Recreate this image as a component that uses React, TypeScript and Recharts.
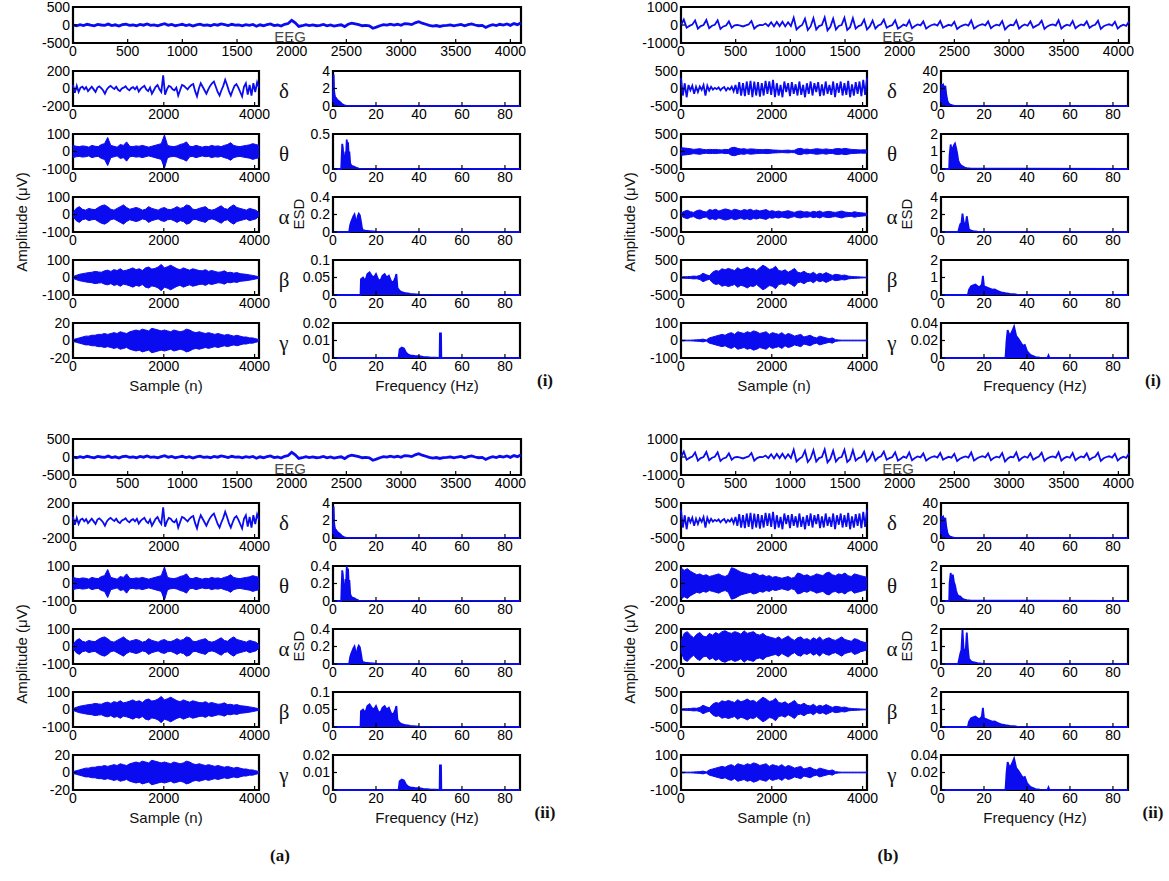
import React from 'react';
import { ComposedChart, Line, Area, XAxis, YAxis, ReferenceArea } from 'recharts';

const BLUE = '#0b0bf0';
const FONT = '"Liberation Sans", Arial, Helvetica, sans-serif';
const SERIF = '"Liberation Serif", "Times New Roman", serif';

const SAMPLE_MAX = 4097;
const FREQ_MAX = 87;

// ---- tick labels ----
const eegXTicks = [0, 500, 1000, 1500, 2000, 2500, 3000, 3500, 4000];
const bandXTicks = [0, 2000, 4000];
const freqXTicks = [0, 20, 40, 60, 80];
const bandNames = ['δ', 'θ', 'α', 'β', 'γ'];

// ---- EEG (a) ----
const aEeg = [
  0, -20, 10, -15, 20, -5, -25, 15, 0, -10,
  25, -15, 5, -30, 10, 20, -10, 0, -20, 15,
  -5, 30, -10, 5, -25, 10, 35, -5, 15, -20,
  0, 20, -15, 10, -30, 5, 25, -10, 0, -20,
  15, -5, 30, 10, -15, 20, -5, 0, -25, 10,
  -10, 15, -35, 5, -20, 10, 30, -15, 0, -30,
  20, 40, 130, 60, -40, -20, 10, -15, 5, -20,
  -10, 15, -25, 0, -30, -10, 5, -45, 20, 50,
  30, 10, -20, -10, -25, -90, -60, -20, 10, -5,
  25, 0, 20, -10, 40, 30, 10, 60, 90, 50,
  20, -10, -30, -15, -40, -20, -10, 5, -25, 0,
  15, -20, 10, 30, 0, -20, -10, -70, -20, 10,
  -15, 20, 0, 30, -10, 40, 10, 60,
];
const aDelta = [
  40, -50, 30, -40, 10, 20, -10, 15, -30, -5,
  20, -10, -40, 10, 25, 5, -20, -60, -10, 15,
  30, 10, -5, 20, -15, -30, 0, 10, 25, -5,
  -20, 5, 15, -10, 20, -35, -5, 15, 30, -10,
  -30, 10, -60, -20, 20, 40, -10, -40, 150, -70,
  -10, 30, 20, -10, -20, 10, -80, -20, 40, 30,
  10, -10, 20, 40, 50, -30, -90, 0, 60, 20,
  -20, -60, -10, 30, 60, 80, 20, -40, -80, -20,
  30, 100, 40, -30, -80, -20, 30, 50, 10, -40,
  -90, 20, 60, -70, 40, -80, 60, -40, 70, 10,
];
const aThetaEnv = [
  35, 30, 28, 32, 30, 25, 35, 30, 28, 40,
  45, 80, 35, 30, 25, 40, 35, 55, 30, 28,
  32, 30, 35, 30, 25, 30, 35, 40, 45, 95,
  35, 30, 28, 32, 40, 45, 55, 30, 28, 35,
  30, 25, 30, 28, 35, 30, 32, 28, 35, 40,
  50, 35, 30, 28, 32, 35, 38, 45, 40, 35,
];
const aAlphaEnv = [
  10, 35, 45, 30, 25, 35, 30, 28, 40, 50,
  55, 45, 30, 25, 35, 45, 55, 40, 30, 35,
  40, 35, 25, 30, 45, 35, 30, 25, 35, 40,
  30, 28, 35, 45, 35, 40, 55, 50, 30, 28,
  35, 40, 45, 30, 25, 30, 40, 50, 35, 30,
  45, 55, 40, 35, 30, 25, 35, 30, 25, 10,
];
const aBetaEnv = [
  5, 12, 18, 22, 25, 28, 30, 35, 32, 30,
  38, 42, 35, 45, 40, 50, 38, 42, 48, 55,
  45, 50, 40, 55, 60, 48, 52, 60, 75, 55,
  62, 70, 60, 50, 45, 55, 48, 42, 50, 45,
  40, 38, 45, 35, 40, 35, 30, 32, 38, 28,
  30, 25, 28, 22, 20, 18, 15, 12, 8, 4,
];
const aGammaEnv = [
  1, 2, 3, 4, 5, 5, 6, 6, 7, 7,
  8, 7, 8, 9, 8, 10, 9, 8, 10, 11,
  12, 11, 13, 12, 11, 14, 13, 12, 11, 12,
  11, 10, 12, 11, 10, 11, 13, 12, 10, 9,
  10, 9, 8, 9, 8, 7, 8, 7, 6, 7,
  6, 5, 6, 5, 4, 4, 3, 3, 2, 1,
];

// ---- ESD (a) ----
const aDeltaF = [0, 0.3, 0.5, 0.8, 1, 1.5, 2, 2.5, 3, 3.5, 4, 5, 6, 87];
const aDeltaV = [0.5, 3.6, 1.8, 1.2, 1.0, 0.9, 0.7, 0.6, 0.5, 0.4, 0.25, 0.1, 0.03, 0];
const aThetaF = [0, 3.8, 4, 4.3, 4.6, 4.9, 5.2, 5.5, 5.8, 6.1, 6.4, 6.7, 7, 7.3, 7.6, 8, 8.5, 9, 10, 11, 12, 87];
const aThetaV = [0, 0, 0.15, 0.36, 0.3, 0.12, 0.2, 0.15, 0.25, 0.2, 0.42, 0.3, 0.38, 0.2, 0.25, 0.08, 0.05, 0.04, 0.03, 0.015, 0.005, 0];
const a2ThetaV = [0, 0, 0.15, 0.35, 0.3, 0.12, 0.2, 0.15, 0.25, 0.2, 0.4, 0.3, 0.37, 0.2, 0.24, 0.08, 0.05, 0.04, 0.03, 0.015, 0.005, 0];
const aAlphaF = [0, 7.5, 8, 8.5, 9, 9.5, 10, 10.5, 11, 11.5, 12, 12.5, 13, 13.5, 14, 15, 17, 20, 87];
const aAlphaV = [0, 0, 0.08, 0.12, 0.15, 0.18, 0.2, 0.14, 0.1, 0.18, 0.21, 0.19, 0.12, 0.04, 0.02, 0.015, 0.01, 0.003, 0];
const aBetaF = [0, 12.8, 13, 14, 15, 16, 17, 18, 19, 20, 21, 22, 23, 24, 25, 26, 27, 28, 29, 29.5, 30, 31, 32, 34, 36, 40, 87];
const aBetaV = [0, 0, 0.045, 0.05, 0.04, 0.06, 0.065, 0.055, 0.05, 0.06, 0.045, 0.04, 0.055, 0.06, 0.05, 0.055, 0.04, 0.035, 0.05, 0.06, 0.02, 0.012, 0.008, 0.005, 0.003, 0.001, 0];
const aGammaF = [0, 30.5, 31, 32, 33, 34, 35, 36, 38, 40, 42, 45, 49.6, 49.75, 50.25, 50.4, 52, 87];
const aGammaV = [0, 0, 0.005, 0.006, 0.0055, 0.003, 0.002, 0.0015, 0.0012, 0.001, 0.0006, 0.0003, 0, 0.014, 0.014, 0, 0, 0];

// ---- EEG (b) ----
const bEeg = [
  0, 300, -150, -50, 20, 250, -200, -60, 0, 280,
  -180, -40, 10, 260, -220, -80, -30, 200, -150, -20,
  0, -40, -80, -20, 30, 220, -200, -60, 10, -10,
  80, -60, 150, -80, 170, -60, 180, -80, 150, -60,
  400, -250, -100, 0, 350, -280, -80, 380, -250, -60,
  0, 420, -300, -100, 350, -250, -50, 0, 400, -280,
  -120, 380, -200, -60, 0, 300, -250, -80, 250, -200,
  -30, 40, 300, -150, -60, 0, 260, -200, -100, 20,
  -50, 250, -180, -60, 30, -20, 200, -200, -80, 0,
  40, -30, 220, -150, -60, 10, -40, 180, -220, -100,
  -20, 30, -30, 250, -200, -80, 0, 40, -20, 200,
  -180, -50, 20, -30, 220, -250, -80, 10, -20, 250,
  -200, -60, 30, -40, 200, -150, -50, 20, 240, -220,
  -80, 0, 30, -30, 260, -200, -60, 20, -40, 220,
  -180, -60, 30, -20, 200, -160, -40, 10, 240, -220,
  -70, 0, 40, -30, 180, -200, -60, 20, -50, 200,
];
const bDelta = [
  300, -200, 150, -250, 100, -50, 80, -150, 50, -100,
  60, -40, 100, -200, 80, -60, 50, -30, 20, -20,
  30, -50, 10, 40, -60, 20, -30, 50, -80, 100,
  -150, 180, -200, 150, -220, 200, -180, 220, -250, 200,
  -200, 180, -230, 150, -200, 220, -150, 200, -180, 250,
  -250, 150, -200, 100, -250, 200, -100, 150, -220, 180,
  -150, 120, -200, 200, -180, 100, -250, 150, -150, 200,
  -200, 150, -100, 180, -220, 120, -200, 200, -150, 100,
  -180, 200, -250, 150, -120, 200, -200, 150, -180, 220,
  -250, 120, -200, 180, -150, 200, -220, 250, -180, 300,
];
const bThetaEnv = [
  110, 100, 90, 80, 60, 70, 80, 60, 50, 60,
  55, 60, 50, 45, 60, 55, 110, 120, 90, 70,
  80, 60, 75, 70, 60, 55, 50, 60, 55, 45,
  40, 35, 30, 35, 40, 30, 35, 80, 90, 60,
  70, 50, 65, 80, 70, 60, 75, 60, 55, 80,
  85, 70, 90, 75, 60, 55, 50, 45, 50, 40,
];
const bAlphaEnv = [
  40, 90, 120, 80, 60, 110, 130, 90, 70, 140,
  120, 150, 100, 130, 160, 140, 110, 150, 130, 100,
  140, 120, 150, 110, 130, 100, 120, 140, 90, 110,
  80, 100, 70, 90, 110, 80, 60, 90, 100, 70,
  80, 60, 90, 70, 100, 60, 80, 90, 70, 60,
  80, 100, 70, 60, 50, 80, 60, 50, 40, 30,
];
const bBetaEnv = [
  15, 20, 25, 30, 40, 35, 60, 120, 80, 50,
  150, 200, 180, 250, 220, 260, 230, 200, 280, 220,
  250, 300, 240, 260, 200, 280, 350, 300, 230, 250,
  320, 200, 180, 220, 150, 200, 260, 150, 130, 180,
  120, 100, 150, 80, 120, 90, 140, 100, 60, 90,
  80, 60, 70, 40, 30, 25, 20, 15, 10, 8,
];
const bGammaEnv = [
  2, 2, 2, 2, 3, 4, 5, 8, 3, 15,
  20, 25, 30, 35, 30, 40, 45, 35, 50, 45,
  40, 50, 45, 55, 50, 40, 45, 50, 35, 45,
  40, 35, 45, 30, 40, 35, 25, 30, 35, 20,
  25, 30, 20, 15, 25, 20, 15, 10, 15, 5,
  3, 2, 2, 2, 2, 2, 2, 2, 2, 2,
];
const b2ThetaEnv = [
  180, 150, 170, 140, 120, 100, 110, 90, 100, 80,
  90, 100, 110, 90, 80, 100, 180, 170, 150, 130,
  120, 110, 100, 120, 110, 90, 100, 80, 90, 70,
  80, 70, 60, 70, 80, 60, 70, 120, 110, 90,
  100, 80, 90, 110, 100, 90, 120, 130, 100, 90,
  110, 100, 120, 90, 80, 110, 100, 90, 80, 70,
];
const b2AlphaEnv = [
  60, 150, 170, 130, 100, 140, 160, 120, 110, 150,
  130, 160, 140, 170, 180, 160, 150, 170, 160, 140,
  180, 150, 160, 170, 140, 130, 150, 120, 110, 100,
  90, 110, 80, 100, 120, 90, 70, 100, 110, 80,
  90, 70, 100, 80, 110, 70, 90, 100, 80, 70,
  90, 110, 80, 70, 60, 90, 80, 60, 50, 40,
];

// ---- ESD (b) ----
const bDeltaF = [0, 0.3, 0.6, 1, 1.5, 2, 2.5, 3, 3.5, 4, 5, 6, 87];
const bDeltaV = [5, 25, 22, 24, 20, 23, 12, 6, 3, 2, 1, 0.3, 0];
const bThetaF = [0, 3.8, 4, 4.5, 5, 5.5, 6, 6.5, 7, 7.5, 8, 8.5, 9, 10, 11, 12, 14, 87];
const bThetaV = [0, 0, 0.8, 1.4, 1.0, 1.2, 1.35, 1.45, 1.2, 0.9, 0.5, 0.35, 0.25, 0.15, 0.08, 0.05, 0.02, 0];
const b2ThetaF = [0, 3.8, 4, 4.5, 5, 5.5, 6, 6.5, 7, 7.5, 8, 9, 10, 11, 12, 14, 87];
const b2ThetaV = [0, 0, 1.0, 1.6, 1.2, 1.5, 1.1, 0.9, 0.6, 0.4, 0.3, 0.25, 0.12, 0.08, 0.05, 0.02, 0];
const bAlphaF = [0, 8, 8.5, 9, 9.5, 10, 10.5, 11, 11.5, 12, 12.5, 13, 14, 15, 17, 20, 87];
const bAlphaV = [0, 0, 0.5, 0.9, 1.0, 2.1, 1.2, 0.8, 0.9, 1.8, 1.0, 0.3, 0.15, 0.1, 0.05, 0.01, 0];
const b2AlphaV = [0, 0, 0.3, 0.6, 0.8, 1.95, 0.9, 0.7, 0.8, 1.8, 0.9, 0.3, 0.15, 0.1, 0.05, 0.01, 0];
const bBetaF = [0, 12.5, 13, 14, 15, 16, 17, 18, 19, 19.5, 20, 21, 22, 23, 24, 25, 26, 27, 28, 30, 32, 35, 40, 87];
const bBetaV = [0, 0, 0.3, 0.5, 0.55, 0.6, 0.5, 0.45, 0.6, 1.1, 0.5, 0.45, 0.4, 0.35, 0.3, 0.32, 0.25, 0.2, 0.15, 0.1, 0.06, 0.03, 0.01, 0];
const bGammaF = [0, 30, 30.5, 31, 32, 33, 34, 35, 36, 37, 38, 39, 40, 41, 42, 44, 46, 49.5, 50, 50.5, 52, 87];
const bGammaV = [0, 0, 0.02, 0.032, 0.025, 0.03, 0.036, 0.025, 0.022, 0.018, 0.014, 0.015, 0.008, 0.005, 0.003, 0.001, 0.0005, 0, 0.003, 0, 0, 0];

// ---- axis ranges (tick labels) ----
const t500 = [-500, 0, 500];
const t1000 = [-1000, 0, 1000];
const t200 = [-200, 0, 200];
const t100 = [-100, 0, 100];
const t20 = [-20, 0, 20];
const e4 = [0, 2, 4];
const e05 = [0, 0.5];
const e04 = [0, 0.2, 0.4];
const e01 = [0, 0.05, 0.1];
const e002 = [0, 0.01, 0.02];
const e40 = [0, 20, 40];
const e2 = [0, 1, 2];
const e004 = [0, 0.02, 0.04];

// ---- data builders ----
type Pt = { x: number; y?: number; r?: number[] };
const lineData = (vals: number[]): Pt[] => {
  const step = SAMPLE_MAX / (vals.length - 1);
  return vals.map((v, i) => ({ x: i * step, y: v }));
};
const envData = (vals: number[]): Pt[] => {
  const step = SAMPLE_MAX / (vals.length - 1);
  return vals.map((v, i) => ({ x: i * step, r: [-v, v] }));
};
const esdData = (f: number[], v: number[]): Pt[] => f.map((fx, i) => ({ x: fx, y: v[i] }));

type Kind = 'line' | 'env' | 'esd';
const YW = 60, MT = 10, MR = 12, XH = 26;

function Plot(props: {
  left: number; top: number; w: number; h: number; data: Pt[]; kind: Kind;
  xMax: number; xTicks: number[]; yTicks: number[]; lw?: number;
}) {
  const { left, top, w, h, data, kind, xMax, xTicks, yTicks } = props;
  const lw = props.lw ?? 1.6;
  const yMin = yTicks[0], yMax = yTicks[yTicks.length - 1];
  const tickStyle = { fontSize: 14, fill: '#000', fontFamily: FONT };
  return (
    <div style={{ position: 'absolute', left: left - YW, top: top - MT }}>
      <ComposedChart width={YW + w + MR} height={MT + h + XH} data={data}
        margin={{ top: MT, right: MR, left: 0, bottom: 0 }}>
        <XAxis xAxisId="b" dataKey="x" type="number" domain={[0, xMax]} ticks={xTicks} interval={0}
          tickSize={-4} tickMargin={7} axisLine={false} tick={tickStyle} tickLine={{ stroke: '#000', strokeWidth: 1.2 }} height={XH} />
        <XAxis xAxisId="t" orientation="top" dataKey="x" type="number" domain={[0, xMax]} ticks={xTicks} interval={0}
          tickSize={-4} axisLine={false} tick={false} tickLine={{ stroke: '#000', strokeWidth: 1.2 }} height={0} />
        <YAxis yAxisId="l" type="number" domain={[yMin, yMax]} ticks={yTicks} interval={0}
          tickSize={-4} tickMargin={7} axisLine={false} tick={tickStyle} tickLine={{ stroke: '#000', strokeWidth: 1.2 }} width={YW} />
        <YAxis yAxisId="r" orientation="right" type="number" domain={[yMin, yMax]} ticks={yTicks} interval={0}
          tickSize={-4} axisLine={false} tick={false} tickLine={{ stroke: '#000', strokeWidth: 1.2 }} width={0} />
        <ReferenceArea xAxisId="b" yAxisId="l" x1={0} x2={xMax} y1={yMin} y2={yMax}
          fill="none" stroke="#000" strokeWidth={2.2} />
        {kind === 'line' && (
          <Line xAxisId="b" yAxisId="l" dataKey="y" type="linear" stroke={BLUE} strokeWidth={lw}
            dot={false} isAnimationActive={false} />
        )}
        {kind === 'env' && (
          <Area xAxisId="b" yAxisId="l" dataKey="r" type="linear" stroke={BLUE} strokeWidth={1}
            fill={BLUE} fillOpacity={1} dot={false} isAnimationActive={false} />
        )}
        {kind === 'esd' && (
          <Area xAxisId="b" yAxisId="l" dataKey="y" type="linear" baseValue={0} stroke={BLUE} strokeWidth={1.8}
            fill={BLUE} fillOpacity={1} dot={false} isAnimationActive={false} />
        )}
      </ComposedChart>
    </div>
  );
}

type Band = { kind: Kind; data: Pt[]; ticks: number[] };
type Esd = { data: Pt[]; ticks: number[] };
type PanelCfg = { ox: number; oy: number; tag: string; eeg: Pt[]; eegTicks: number[]; eegLw: number; bands: Band[]; esds: Esd[] };

const aBands: Band[] = [
  { kind: 'line', data: lineData(aDelta), ticks: t200 },
  { kind: 'env', data: envData(aThetaEnv), ticks: t100 },
  { kind: 'env', data: envData(aAlphaEnv), ticks: t100 },
  { kind: 'env', data: envData(aBetaEnv), ticks: t100 },
  { kind: 'env', data: envData(aGammaEnv), ticks: t20 },
];
const b1Bands: Band[] = [
  { kind: 'line', data: lineData(bDelta), ticks: t500 },
  { kind: 'env', data: envData(bThetaEnv), ticks: t500 },
  { kind: 'env', data: envData(bAlphaEnv), ticks: t500 },
  { kind: 'env', data: envData(bBetaEnv), ticks: t500 },
  { kind: 'env', data: envData(bGammaEnv), ticks: t100 },
];
const b2Bands: Band[] = [
  { kind: 'line', data: lineData(bDelta), ticks: t500 },
  { kind: 'env', data: envData(b2ThetaEnv), ticks: t200 },
  { kind: 'env', data: envData(b2AlphaEnv), ticks: t200 },
  { kind: 'env', data: envData(bBetaEnv), ticks: t500 },
  { kind: 'env', data: envData(bGammaEnv), ticks: t100 },
];

const PANELS: PanelCfg[] = [
  {
    ox: 0, oy: 0, tag: '(i)', eeg: lineData(aEeg), eegTicks: t500, eegLw: 2.8, bands: aBands,
    esds: [
      { data: esdData(aDeltaF, aDeltaV), ticks: e4 },
      { data: esdData(aThetaF, aThetaV), ticks: e05 },
      { data: esdData(aAlphaF, aAlphaV), ticks: e04 },
      { data: esdData(aBetaF, aBetaV), ticks: e01 },
      { data: esdData(aGammaF, aGammaV), ticks: e002 },
    ],
  },
  {
    ox: 0, oy: 432, tag: '(ii)', eeg: lineData(aEeg), eegTicks: t500, eegLw: 2.8, bands: aBands,
    esds: [
      { data: esdData(aDeltaF, aDeltaV), ticks: e4 },
      { data: esdData(aThetaF, a2ThetaV), ticks: e04 },
      { data: esdData(aAlphaF, aAlphaV), ticks: e04 },
      { data: esdData(aBetaF, aBetaV), ticks: e01 },
      { data: esdData(aGammaF, aGammaV), ticks: e002 },
    ],
  },
  {
    ox: 608, oy: 0, tag: '(i)', eeg: lineData(bEeg), eegTicks: t1000, eegLw: 1.8, bands: b1Bands,
    esds: [
      { data: esdData(bDeltaF, bDeltaV), ticks: e40 },
      { data: esdData(bThetaF, bThetaV), ticks: e2 },
      { data: esdData(bAlphaF, bAlphaV), ticks: e4 },
      { data: esdData(bBetaF, bBetaV), ticks: e2 },
      { data: esdData(bGammaF, bGammaV), ticks: e004 },
    ],
  },
  {
    ox: 608, oy: 432, tag: '(ii)', eeg: lineData(bEeg), eegTicks: t1000, eegLw: 1.8, bands: b2Bands,
    esds: [
      { data: esdData(bDeltaF, bDeltaV), ticks: e40 },
      { data: esdData(b2ThetaF, b2ThetaV), ticks: e2 },
      { data: esdData(bAlphaF, b2AlphaV), ticks: e2 },
      { data: esdData(bBetaF, bBetaV), ticks: e2 },
      { data: esdData(bGammaF, bGammaV), ticks: e004 },
    ],
  },
];

const ROW_TOPS = [71, 134, 197, 260, 323];
const ROW_H = 35;
const EEG_TOP = 7, EEG_H = 36;
const LEFT_X = 73, LEFT_W = 186, RIGHT_X = 333, RIGHT_W = 187, EEG_W = 448;

function Panel({ cfg }: { cfg: PanelCfg }) {
  const { ox, oy } = cfg;
  return (
    <>
      <Plot left={ox + LEFT_X} top={oy + EEG_TOP} w={EEG_W} h={EEG_H} data={cfg.eeg} kind="line" lw={cfg.eegLw}
        xMax={SAMPLE_MAX} xTicks={eegXTicks} yTicks={cfg.eegTicks} />
      {cfg.bands.map((b, k) => (
        <Plot key={'b' + k} left={ox + LEFT_X} top={oy + ROW_TOPS[k]} w={LEFT_W} h={ROW_H} data={b.data}
          kind={b.kind} xMax={SAMPLE_MAX} xTicks={bandXTicks} yTicks={b.ticks} lw={1.8} />
      ))}
      {cfg.esds.map((e, k) => (
        <Plot key={'e' + k} left={ox + RIGHT_X} top={oy + ROW_TOPS[k]} w={RIGHT_W} h={ROW_H} data={e.data}
          kind="esd" xMax={FREQ_MAX} xTicks={freqXTicks} yTicks={e.ticks} />
      ))}
    </>
  );
}

function Labels({ cfg }: { cfg: PanelCfg }) {
  const { ox, oy } = cfg;
  const lab = { fontFamily: FONT, fontSize: 15, fill: '#111' };
  return (
    <g>
      <text x={ox + 290} y={oy + 42} textAnchor="middle" style={{ fontFamily: FONT, fontSize: 15, fill: '#4a4a4a' }}>EEG</text>
      {bandNames.map((g, k) => (
        <text key={g} x={ox + 284} y={oy + ROW_TOPS[k] + ROW_H / 2 + 9} textAnchor="middle"
          style={{ fontFamily: SERIF, fontSize: 21, fill: '#111' }}>{g}</text>
      ))}
      <text transform={`translate(${ox + 304},${oy + 214}) rotate(-90)`} textAnchor="middle" style={lab}>ESD</text>
      <text transform={`translate(${ox + 27},${oy + 222}) rotate(-90)`} textAnchor="middle" style={lab}>Amplitude (μV)</text>
      <text x={ox + 166} y={oy + 391} textAnchor="middle" style={lab}>Sample (n)</text>
      <text x={ox + 427} y={oy + 391} textAnchor="middle" style={lab}>Frequency (Hz)</text>
      <text x={ox + 545} y={oy + 386} textAnchor="middle"
        style={{ fontFamily: SERIF, fontSize: 17, fontWeight: 'bold', fill: '#111' }}>{cfg.tag}</text>
    </g>
  );
}

export default function App() {
  return (
    <div style={{ position: 'absolute', left: 0, top: 0, width: 1169, height: 881, background: '#fff', overflow: 'hidden' }}>
      {PANELS.map((p, i) => <Panel key={i} cfg={p} />)}
      <svg width={1169} height={881} style={{ position: 'absolute', left: 0, top: 0, pointerEvents: 'none' }}>
        {PANELS.map((p, i) => <Labels key={i} cfg={p} />)}
        <text x={280} y={861} textAnchor="middle" style={{ fontFamily: SERIF, fontSize: 17, fontWeight: 'bold', fill: '#111' }}>(a)</text>
        <text x={888} y={861} textAnchor="middle" style={{ fontFamily: SERIF, fontSize: 17, fontWeight: 'bold', fill: '#111' }}>(b)</text>
      </svg>
    </div>
  );
}
